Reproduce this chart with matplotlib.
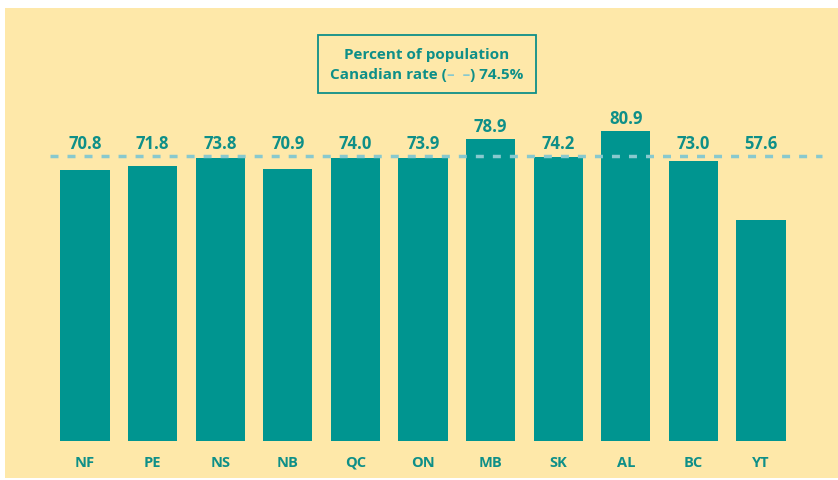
import matplotlib
matplotlib.use("Agg")
import matplotlib.pyplot as plt
from matplotlib.patches import Rectangle
from matplotlib.offsetbox import TextArea, HPacker, VPacker, AnchoredOffsetbox

provinces = ["NF", "PE", "NS", "NB", "QC", "ON", "MB", "SK", "AL", "BC", "YT"]
percent = [70.8, 71.8, 73.8, 70.9, 74.0, 73.9, 78.9, 74.2, 80.9, 73.0, 57.6]
canadian_rate = 74.5
legend_title = "Percent of population"

BG = "#FEE8A9"
TEAL = "#009590"
TEXT = "#0E8F88"
LIGHT = "#88C9CE"
FONT = "Open Sans"

W, H = 838, 481
fig = plt.figure(figsize=(W / 100, H / 100), dpi=100)
fig.patch.set_facecolor("white")
fig.add_artist(Rectangle((5 / W, 2 / H), (W - 5) / W, (H - 11) / H,
                         transform=fig.transFigure, facecolor=BG,
                         edgecolor="none", zorder=-10))

left_px, right_px = 51.2, 794.8
bottom_px, ppu = 442, 3.83
ymax = 100
ax = fig.add_axes([left_px / W, (H - bottom_px) / H,
                   (right_px - left_px) / W, ymax * ppu / H])
ax.set_zorder(1)
ax.set_facecolor("none")
for s in ax.spines.values():
    s.set_visible(False)

x = list(range(len(provinces)))
ax.bar(x, percent, width=0.725, color=TEAL, zorder=2)
ax.set_xlim(-0.5, len(provinces) - 0.5)
ax.set_ylim(0, ymax)
ax.axhline(canadian_rate, xmin=-0.001, xmax=1.037, color=LIGHT, lw=2.5,
           dashes=(2.3, 2.6), zorder=3, clip_on=False)

for xi, v in zip(x, percent):
    ax.annotate(f"{v:.1f}", (xi, max(v, canadian_rate)), xytext=(0, 9.3),
                textcoords="offset points", ha="center", va="center",
                color=TEXT, fontsize=12, fontweight="bold", family=FONT)

ax.set_xticks(x)
ax.set_xticklabels(provinces, color=TEXT, fontsize=10.5, fontweight="bold",
                   family=FONT)
ax.tick_params(axis="x", length=0, pad=10)
ax.set_yticks([])

props = dict(color=TEXT, fontsize=11, fontweight="bold", family=FONT)
t1 = TextArea(legend_title, textprops=props)
row = HPacker(children=[
    TextArea("Canadian rate (", textprops=props),
    TextArea("–  –", textprops=dict(props, color=LIGHT)),
    TextArea(") 74.5%", textprops=props)], align="baseline", pad=0, sep=0)
box = VPacker(children=[t1, row], align="center", pad=0, sep=4)
anch = AnchoredOffsetbox(loc="center", child=box, pad=0.85, borderpad=0,
                         frameon=True,
                         bbox_to_anchor=(427 / W, (H - 65) / H),
                         bbox_transform=fig.transFigure)
anch.patch.set_facecolor(BG)
anch.patch.set_edgecolor(TEXT)
anch.patch.set_linewidth(1.3)
anch.patch.set_boxstyle("square", pad=0)
anch.set_zorder(5)
fig.add_artist(anch)

fig.savefig("out.png", dpi=100, facecolor=fig.get_facecolor())
